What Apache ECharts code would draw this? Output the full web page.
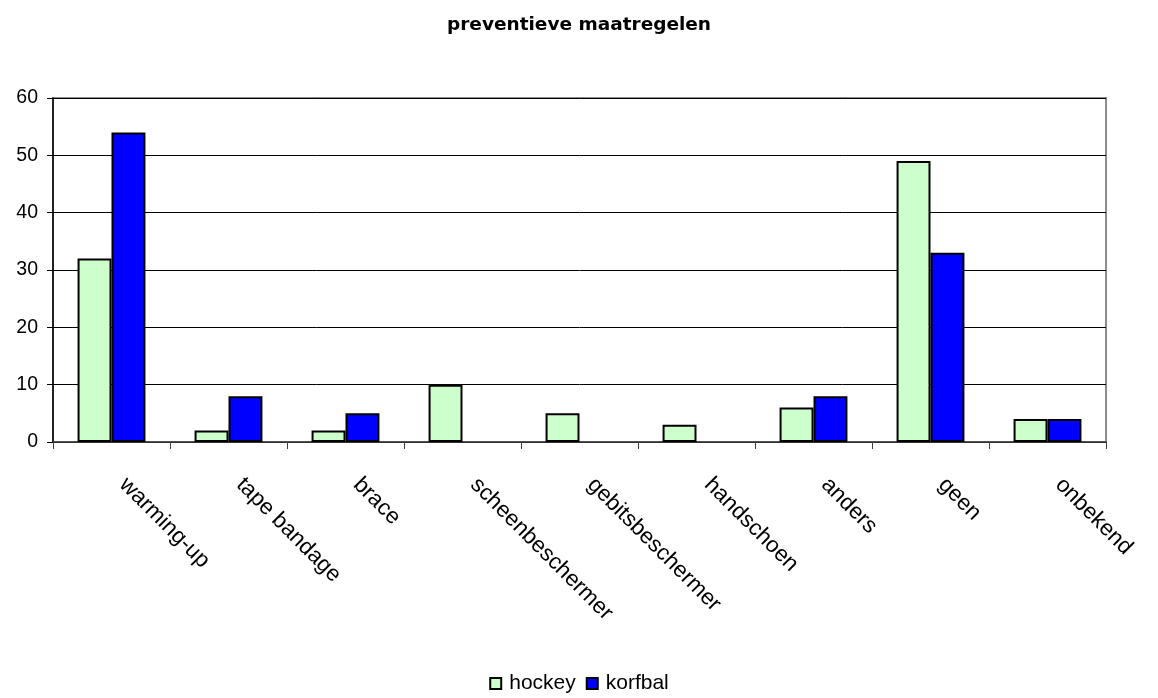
<!DOCTYPE html>
<html>
<head>
<meta charset="utf-8">
<title>preventieve maatregelen</title>
<script src="https://cdn.jsdelivr.net/npm/echarts@6/dist/echarts.min.js"></script>
<style>
  html, body { margin: 0; padding: 0; background: #ffffff; }
  #chart { width: 1158px; height: 698px; }
</style>
</head>
<body>
<div id="chart"></div>
<script>
// Preventive measures reported by hockey and korfbal players
const categories = ['warming-up', 'tape bandage', 'brace', 'scheenbeschermer', 'gebitsbeschermer', 'handschoen', 'anders', 'geen', 'onbekend'];
const hockey = [32, 2, 2, 10, 5, 3, 6, 49, 4];
const korfbal = [54, 8, 5, null, null, null, 8, 33, 4];
const yTicks = { min: 0, max: 60, interval: 10 };

const font = 'Arial, "Liberation Sans", sans-serif';

const chart = echarts.init(document.getElementById('chart'), null, { renderer: 'canvas' });
chart.setOption({
  animation: false,
  backgroundColor: '#ffffff',
  title: {
    text: 'preventieve maatregelen',
    left: 'center',
    top: 11,
    textStyle: { fontFamily: '"DejaVu Sans", sans-serif', fontSize: 18.5, fontWeight: 'bold', color: '#000000' }
  },
  legend: {
    bottom: -1,
    left: 'center',
    icon: 'rect',
    itemWidth: 11,
    itemHeight: 11,
    itemGap: 10,
    textStyle: { fontFamily: font, fontSize: 21, color: '#000000', padding: [0, 0, 0, 3] },
    data: ['hockey', 'korfbal']
  },
  grid: {
    left: 53,
    right: 52,
    top: 98,
    bottom: 256,
    show: true,
    borderColor: '#8c8c8c',
    borderWidth: 2,
    backgroundColor: 'transparent'
  },
  xAxis: {
    type: 'category',
    data: categories,
    boundaryGap: true,
    axisLine: { show: true, lineStyle: { color: '#404040', width: 1.5 } },
    axisTick: { show: true, alignWithLabel: false, length: 7, inside: false, lineStyle: { color: '#404040' } },
    axisLabel: {
      rotate: -45,
      margin: 28,
      padding: [0, 0, 0, 16],
      interval: 0,
      fontFamily: font,
      fontSize: 22.5,
      color: '#000000'
    },
    splitLine: { show: false }
  },
  yAxis: {
    type: 'value',
    min: yTicks.min,
    max: yTicks.max,
    interval: yTicks.interval,
    axisLine: { show: true, lineStyle: { color: '#000000', width: 1.5 } },
    axisTick: { show: true, length: 6, lineStyle: { color: '#000000' } },
    axisLabel: { fontFamily: font, fontSize: 19.5, color: '#000000', margin: 15 },
    splitLine: { show: true, lineStyle: { color: '#000000', width: 1 } }
  },
  series: [
    {
      name: 'hockey',
      type: 'bar',
      data: hockey,
      barGap: '0%',
      barCategoryGap: '42%',
      itemStyle: { color: '#ccffcc', borderColor: '#000000', borderWidth: 2 }
    },
    {
      name: 'korfbal',
      type: 'bar',
      data: korfbal,
      itemStyle: { color: '#0000ff', borderColor: '#000000', borderWidth: 2 }
    }
  ]
});
</script>
</body>
</html>
